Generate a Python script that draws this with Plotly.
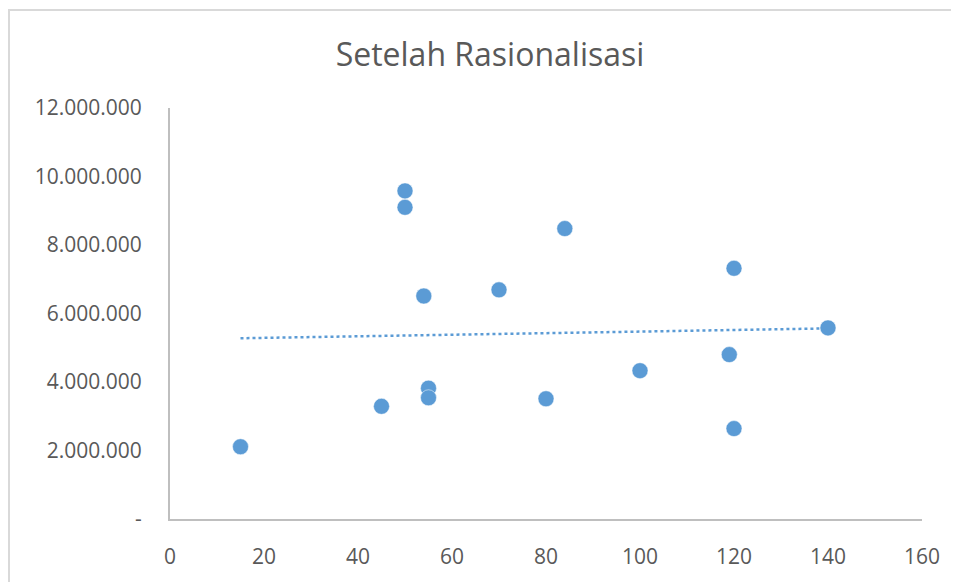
import numpy as np
import plotly.graph_objects as go

x_vals = [15, 45, 50, 50, 54, 55, 55, 70, 80, 84, 100, 119, 120, 120, 140]
y_vals = [2110000, 3290000, 9580000, 9100000, 6510000, 3820000, 3540000, 6690000,
          3510000, 8480000, 4330000, 4800000, 7320000, 2640000, 5580000]

y_tickvals = [0, 2000000, 4000000, 6000000, 8000000, 10000000, 12000000]
y_ticktext = ["-", "2.000.000", "4.000.000", "6.000.000", "8.000.000", "10.000.000", "12.000.000"]
x_tickvals = [0, 20, 40, 60, 80, 100, 120, 140, 160]

title_text = "Setelah Rasionalisasi"
blue = "#5b9bd5"
grey_txt = "#595959"

slope, intercept = np.polyfit(x_vals, y_vals, 1)
tx = [min(x_vals), max(x_vals)]
ty = [slope * v + intercept for v in tx]

fig = go.Figure()
fig.add_trace(go.Scatter(x=tx, y=ty, mode="lines",
                         line=dict(color=blue, width=2.5, dash="dot"),
                         hoverinfo="skip", showlegend=False))
fig.add_trace(go.Scatter(x=x_vals, y=y_vals, mode="markers",
                         marker=dict(color=blue, size=16, line=dict(color="white", width=0.5)),
                         showlegend=False))

# page body has an 8px margin, so the figure is shrunk by 8px each way
W, H = 951, 574
L, R, T, B = 162, 37, 100, 59
pw, ph = W - L - R, H - T - B

fig.update_layout(
    width=W, height=H,
    margin=dict(l=L, r=R, t=T, b=B),
    paper_bgcolor="white", plot_bgcolor="white",
    font=dict(family="Open Sans", color=grey_txt, size=21),
    title=dict(text=title_text, x=482 / W, xanchor="center", y=1 - 47 / H, yanchor="middle",
               font=dict(size=32, color=grey_txt, family="Open Sans")),
    xaxis=dict(range=[0, 160], tickvals=x_tickvals, showgrid=False, zeroline=False,
               showline=True, linecolor="#bfbfbf", linewidth=2, ticks="",
               tickfont=dict(size=21, color=grey_txt), ticklabelstandoff=18),
    yaxis=dict(range=[0, 12000000], tickvals=y_tickvals, ticktext=y_ticktext,
               showgrid=False, zeroline=False, showline=True, linecolor="#bfbfbf",
               linewidth=2, ticks="", tickfont=dict(size=21, color=grey_txt),
               ticklabelstandoff=22),
    shapes=[dict(type="rect", xref="paper", yref="paper",
                 x0=(1 - L) / pw, x1=(W + 20 - L) / pw,
                 y0=-(B + 20) / ph, y1=(H - 1 - B) / ph,
                 line=dict(color="#d9d9d9", width=2), fillcolor="rgba(0,0,0,0)",
                 layer="below")],
)

fig.write_html("out.html")
